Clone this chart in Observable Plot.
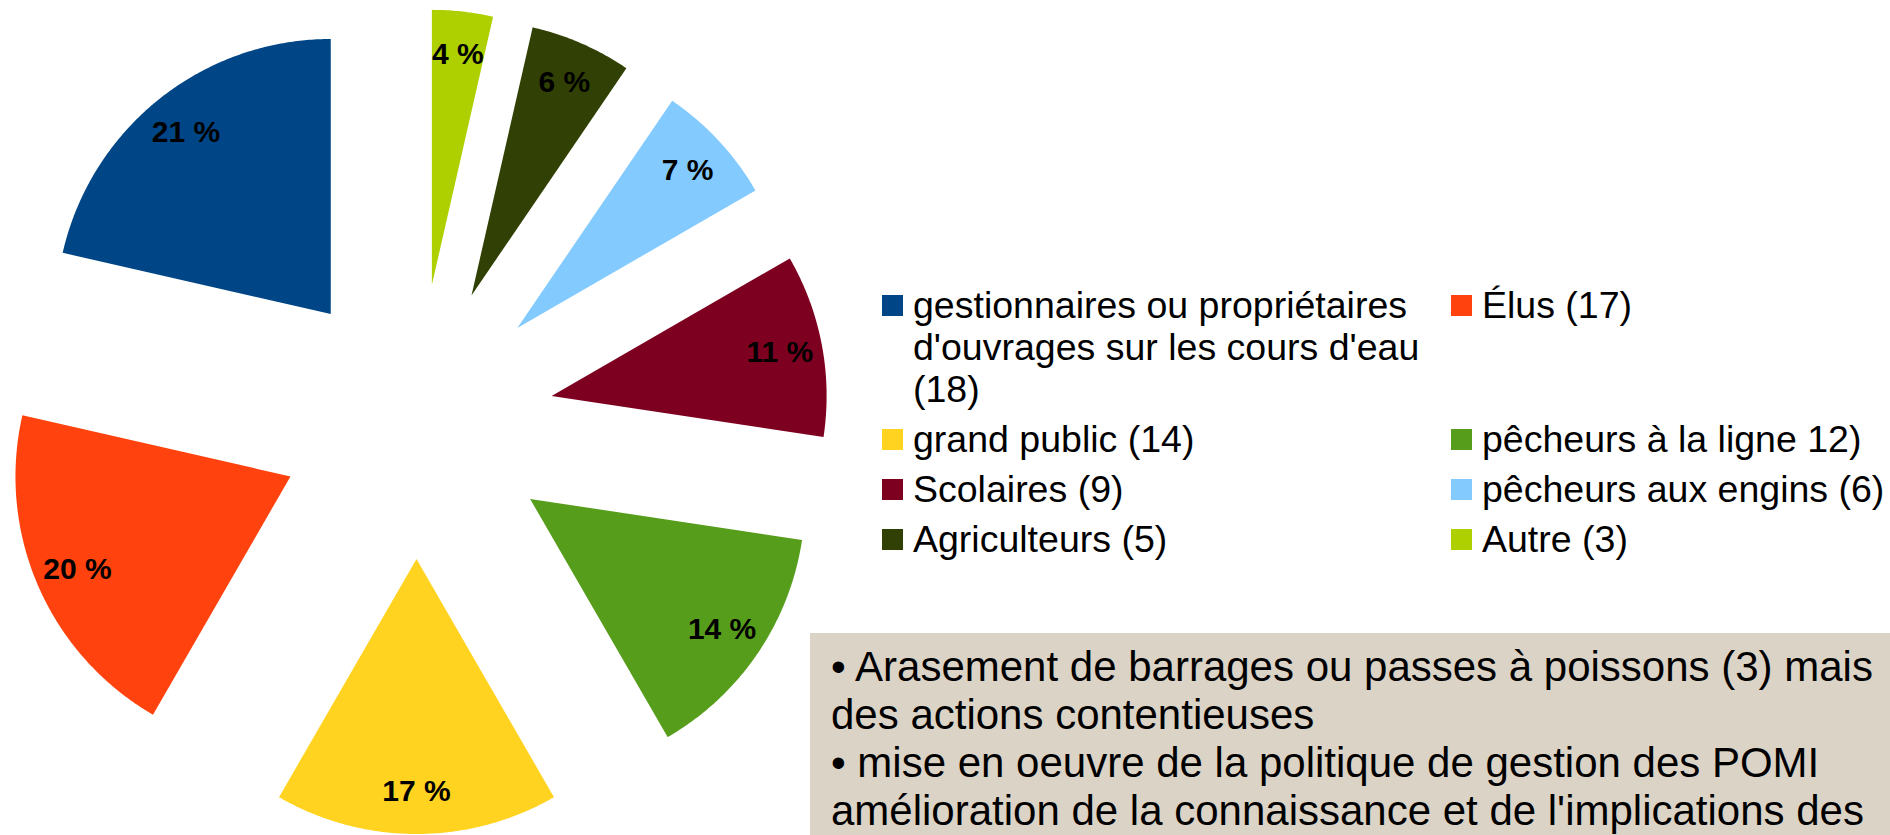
<!DOCTYPE html>
<html><head><meta charset="utf-8">
<script src="https://cdn.jsdelivr.net/npm/d3@7"></script>
<script src="https://cdn.jsdelivr.net/npm/@observablehq/plot@0.6"></script>
<style>
html,body{margin:0;padding:0;background:#fff;}
#wrap{position:relative;width:1890px;height:835px;overflow:hidden;font-family:"Liberation Sans",Arial,sans-serif;}
#chart{position:absolute;left:0;top:0;}
#legend{position:absolute;left:882px;top:284px;display:grid;grid-template-columns:569px 439px;row-gap:8px;font-size:37.5px;line-height:42px;color:#000;}
.item{display:flex;align-items:flex-start;}
.sw{flex:none;width:21px;height:21px;margin-top:11px;margin-right:10px;}
.lab{width:528px;}
.item.c2 .lab{white-space:nowrap;width:auto;}
#note{position:absolute;left:810px;top:633px;width:1080px;height:230px;background:#dbd3c6;box-sizing:border-box;padding:10px 0 0 21px;font-size:42px;line-height:48px;white-space:nowrap;color:#000;}
#note p{margin:0;}
</style></head><body>
<div id="wrap"><div id="chart"></div><div id="legend"></div><div id="note"></div></div>
<script>
const categories = ["gestionnaires ou propriétaires d'ouvrages sur les cours d'eau", "Élus", "grand public", "pêcheurs à la ligne", "Scolaires", "pêcheurs aux engins", "Agriculteurs", "Autre"];
const counts = [18, 17, 14, 12, 9, 6, 5, 3];
const colors = ["#004586", "#ff420e", "#ffd320", "#579d1c", "#7e0021", "#83caff", "#314004", "#aecf00"];
const legendLabels = ["gestionnaires ou propriétaires d'ouvrages sur les cours d'eau (18)", "Élus (17)", "grand public (14)", "pêcheurs à la ligne 12)", "Scolaires (9)", "pêcheurs aux engins (6)", "Agriculteurs (5)", "Autre (3)"];
const noteParagraphs = [
  ["• Arasement de barrages ou passes à poissons (3) mais", "des actions contentieuses"],
  ["• mise en oeuvre de la politique de gestion des POMI", "amélioration de la connaissance et de l'implications des"]
];

// pie geometry (unit radius, angles counter-clockwise from 12 o'clock), exploded slices
const total = d3.sum(counts);
const explode = 0.5;
let angle = Math.PI / 2;
const slices = counts.map((v, i) => {
  const span = v / total * 2 * Math.PI;
  const a0 = angle, a1 = angle + span;
  angle = a1;
  const mid = (a0 + a1) / 2;
  const ox = explode * Math.cos(mid), oy = explode * Math.sin(mid);
  const n = Math.max(8, Math.ceil(span / (Math.PI / 360)));
  const pts = [{x: ox, y: oy}];
  for (let j = 0; j <= n; j++) {
    const t = a0 + span * j / n;
    pts.push({x: ox + Math.cos(t), y: oy + Math.sin(t)});
  }
  return {name: categories[i], color: colors[i], pts,
          label: {x: ox + 0.845 * Math.cos(mid), y: oy + 0.845 * Math.sin(mid), text: Math.round(v / total * 100) + " %"}};
});

const chart = Plot.plot({
  width: 1890, height: 835, margin: 0,
  style: {fontFamily: "Liberation Sans, Arial, sans-serif", background: "transparent"},
  x: {domain: [-1, 1], range: [141, 691], axis: null},
  y: {domain: [-1, 1], range: [696, 146], axis: null},
  marks: [
    ...slices.map(s => Plot.line(s.pts, {x: "x", y: "y", fill: s.color, stroke: "none", curve: "linear"})),
    Plot.text(slices.map(s => s.label), {x: "x", y: "y", text: "text", fontSize: 30, fontWeight: "bold", fill: "#000"})
  ]
});
document.getElementById("chart").appendChild(chart);

const legend = document.getElementById("legend");
legendLabels.forEach((t, i) => {
  const it = document.createElement("div");
  it.className = "item" + (i % 2 ? " c2" : "");
  const sw = document.createElement("span");
  sw.className = "sw"; sw.style.background = colors[i];
  const lb = document.createElement("span");
  lb.className = "lab"; lb.textContent = t;
  it.appendChild(sw); it.appendChild(lb);
  legend.appendChild(it);
});

const note = document.getElementById("note");
noteParagraphs.forEach(lines => {
  const p = document.createElement("p");
  lines.forEach((l, k) => {
    if (k) p.appendChild(document.createElement("br"));
    p.appendChild(document.createTextNode(l));
  });
  note.appendChild(p);
});
</script>
</body></html>
